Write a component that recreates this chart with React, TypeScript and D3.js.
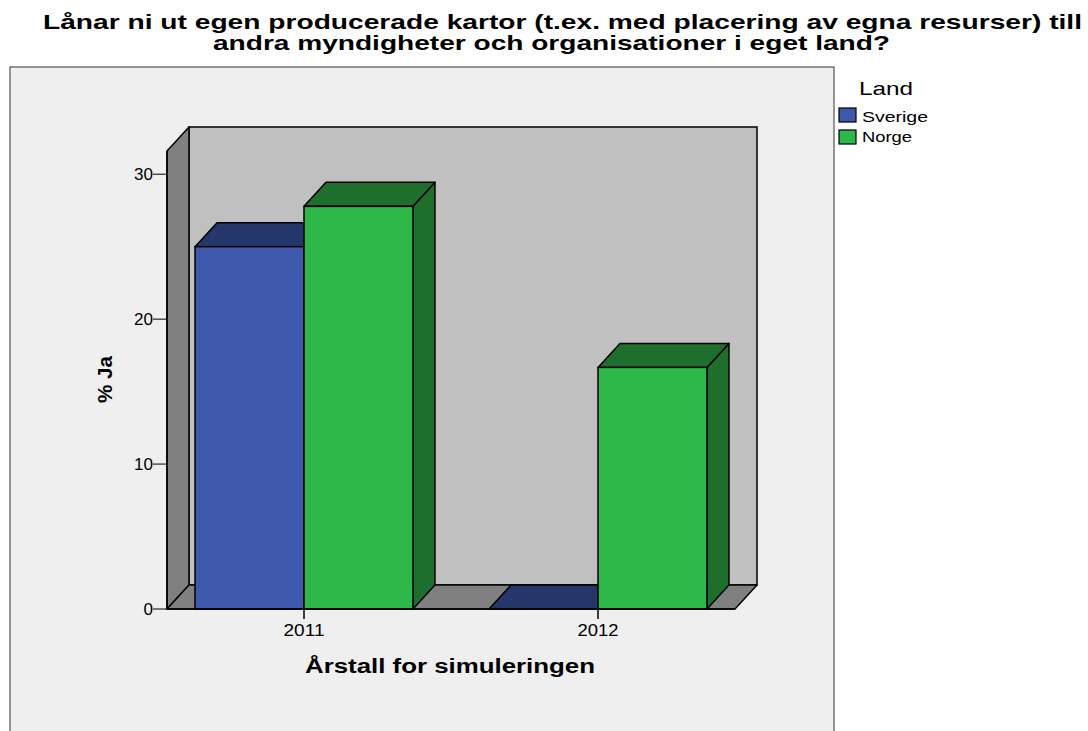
import React from "react";
import * as d3 from "d3";

const categories = ["2011", "2012"];
const seriesNames = ["Sverige", "Norge"];
const sverigeValues = [25, 0];
const norgeValues = [27.78, 16.67];
const yTicks = [0, 10, 20, 30];
const titleLines = [
  "Lånar ni ut egen producerade kartor (t.ex. med placering av egna resurser) till",
  "andra myndigheter och organisationer i eget land?",
];

const colors: Record<string, { front: string; top: string; side: string }> = {
  Sverige: { front: "#3e58ac", top: "#25366a", side: "#25366a" },
  Norge: { front: "#2eb84a", top: "#1e6e2e", side: "#1e6e2e" },
};

export default function App() {
  const W = 1088, H = 731;
  const floorY = 609;
  const left = 167, right = 735;
  const dx = 22, dy = -24;
  const y = d3.scaleLinear().domain([0, 31.6]).range([floorY, 151]);
  const x0 = d3.scaleBand().domain(categories).range([157, 745]).padding(0);
  const x1 = d3
    .scaleBand()
    .domain(seriesNames)
    .range([0, x0.bandwidth()])
    .paddingInner(0)
    .paddingOuter(0.349);
  const values: Record<string, number[]> = { Sverige: sverigeValues, Norge: norgeValues };
  const top = y.range()[1];
  const stroke = "#000";
  const sw = 1.5;

  const bars: React.ReactNode[] = [];
  categories.forEach((c, ci) => {
    seriesNames.forEach((s) => {
      const v = values[s][ci];
      const bx = (x0(c) as number) + (x1(s) as number);
      const bw = x1.bandwidth();
      const yv = y(v);
      const col = colors[s];
      const pts = (arr: number[][]) => arr.map((p) => p.join(",")).join(" ");
      bars.push(
        <g key={c + s}>
          {v > 0 && (
            <polygon
              points={pts([[bx + bw, yv], [bx + bw + dx, yv + dy], [bx + bw + dx, floorY + dy], [bx + bw, floorY]])}
              fill={col.side}
              stroke={stroke}
              strokeWidth={sw}
              strokeLinejoin="round"
            />
          )}
          <polygon
            points={pts([[bx, yv], [bx + dx, yv + dy], [bx + bw + dx, yv + dy], [bx + bw, yv]])}
            fill={col.top}
            stroke={stroke}
            strokeWidth={sw}
            strokeLinejoin="round"
          />
          {v > 0 && (
            <rect x={bx} y={yv} width={bw} height={floorY - yv} fill={col.front} stroke={stroke} strokeWidth={sw} />
          )}
        </g>
      );
    });
  });

  const font = "'Liberation Sans', Arial, sans-serif";
  const titleX = [43, 213];
  const titleLen = [1039, 677];

  return (
    <svg width={W} height={H} style={{ position: "absolute", left: 0, top: 0 }} fontFamily={font}>
      <rect x={0} y={0} width={W} height={H} fill="#ffffff" />
      {titleLines.map((t, i) => (
        <text
          key={i}
          x={titleX[i]}
          y={29 + i * 21}
          fontWeight="bold"
          fontSize={21}
          textLength={titleLen[i]}
          lengthAdjust="spacingAndGlyphs"
        >
          {t}
        </text>
      ))}
      <rect x={10} y={67} width={824} height={700} fill="#efefef" stroke="#333" strokeWidth={1} />
      {/* back wall */}
      <rect x={left + dx} y={top + dy} width={right - left} height={floorY - top} fill="#c0c0c0" stroke={stroke} strokeWidth={sw} />
      {/* left wall */}
      <polygon
        points={`${left},${top} ${left + dx},${top + dy} ${left + dx},${floorY + dy} ${left},${floorY}`}
        fill="#808080"
        stroke={stroke}
        strokeWidth={sw}
        strokeLinejoin="round"
      />
      {/* floor */}
      <polygon
        points={`${left},${floorY} ${left + dx},${floorY + dy} ${right + dx},${floorY + dy} ${right},${floorY}`}
        fill="#808080"
        stroke={stroke}
        strokeWidth={sw}
        strokeLinejoin="round"
      />
      {bars}
      {/* y axis */}
      <line x1={left} x2={left} y1={top} y2={floorY} stroke={stroke} strokeWidth={sw} />
      {yTicks.map((t) => (
        <g key={t}>
          <line x1={left - 14} x2={left} y1={y(t)} y2={y(t)} stroke={stroke} strokeWidth={1} />
          <text
            x={left - 14}
            y={y(t) + 6}
            textAnchor="end"
            fontSize={16.5}
            textLength={String(t).length * 9.5}
            lengthAdjust="spacingAndGlyphs"
          >
            {t}
          </text>
        </g>
      ))}
      {/* x axis */}
      <line x1={left} x2={right} y1={floorY} y2={floorY} stroke={stroke} strokeWidth={sw} />
      {categories.map((c) => {
        const cx = (x0(c) as number) + x0.bandwidth() / 2;
        return (
          <g key={c}>
            <line x1={cx} x2={cx} y1={floorY} y2={floorY + 10} stroke={stroke} strokeWidth={sw} />
            <text x={cx - 20.5} y={636} fontSize={17} textLength={41} lengthAdjust="spacingAndGlyphs">
              {c}
            </text>
          </g>
        );
      })}
      <text x={305} y={673} fontWeight="bold" fontSize={20} textLength={290} lengthAdjust="spacingAndGlyphs">
        Årstall for simuleringen
      </text>
      <text
        transform="translate(112,403) rotate(-90)"
        fontWeight="bold"
        fontSize={21}
        textLength={47}
        lengthAdjust="spacingAndGlyphs"
      >
        % Ja
      </text>
      {/* legend */}
      <text x={859} y={95} fontSize={19} textLength={54} lengthAdjust="spacingAndGlyphs">
        Land
      </text>
      {seriesNames.map((s, i) => (
        <g key={s}>
          <rect x={839} y={108 + i * 22} width={17} height={14} fill={colors[s].front} stroke={stroke} strokeWidth={1.2} />
          <text
            x={862}
            y={122 + i * 20}
            fontSize={15.5}
            textLength={s === "Sverige" ? 66 : 50}
            lengthAdjust="spacingAndGlyphs"
          >
            {s}
          </text>
        </g>
      ))}
    </svg>
  );
}
